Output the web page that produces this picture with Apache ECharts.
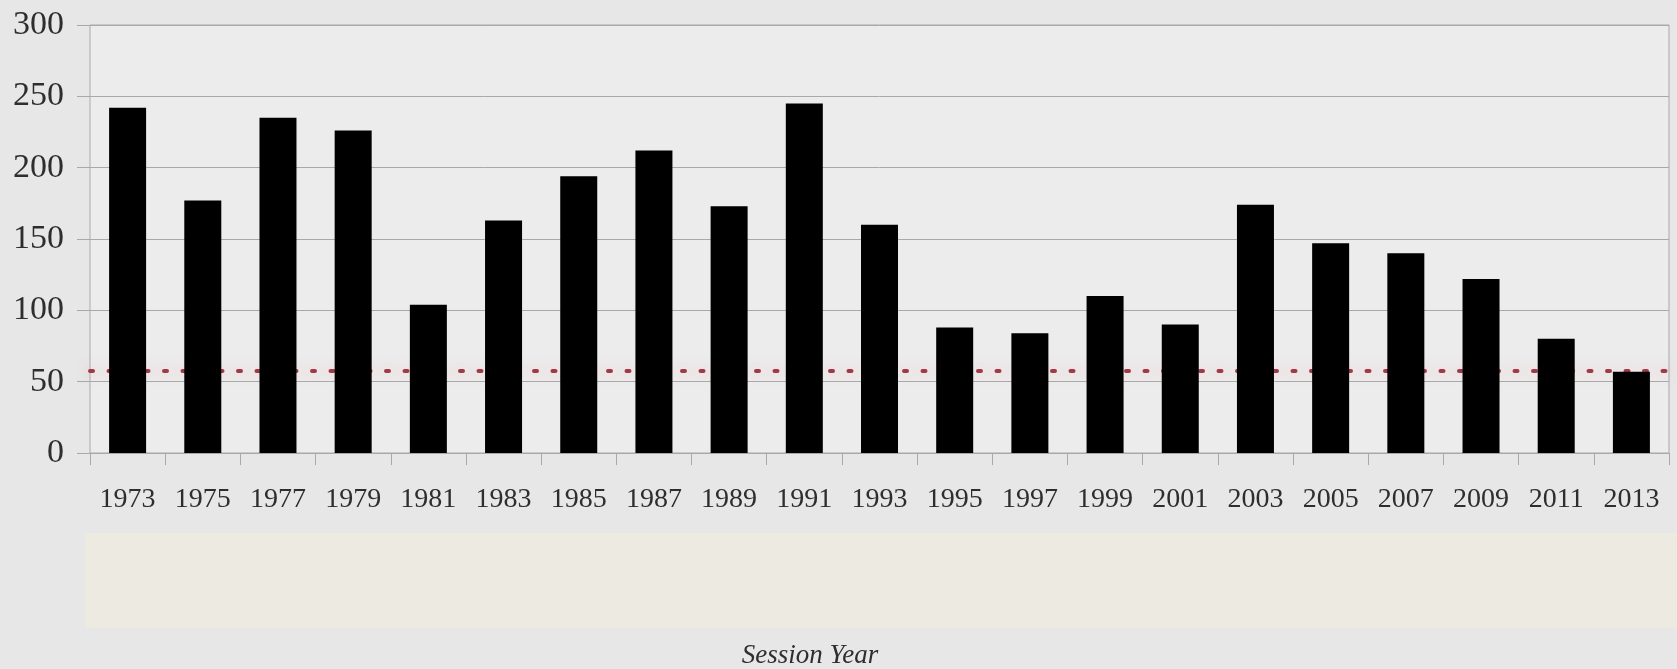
<!DOCTYPE html>
<html>
<head>
<meta charset="utf-8">
<script src="https://cdn.jsdelivr.net/npm/echarts@6/dist/echarts.min.js"></script>
<style>
html,body{margin:0;padding:0;background:#e7e7e7;}
#chart{width:1677px;height:669px;}
</style>
</head>
<body>
<div id="chart"></div>
<script>
const years = ['1973','1975','1977','1979','1981','1983','1985','1987','1989','1991','1993','1995','1997','1999','2001','2003','2005','2007','2009','2011','2013'];
const counts = [242,177,235,226,104,163,194,212,173,245,160,88,84,110,90,174,147,140,122,80,57];
const referenceLevel = 58;
const yTicks = [0,50,100,150,200,250,300];
const axisTitle = 'Session Year';

const chart = echarts.init(document.getElementById('chart'));
const serif = '"Liberation Serif", "DejaVu Serif", serif';
chart.setOption({
  backgroundColor: '#e7e7e7',
  animation: false,
  grid: {left: 90, right: 8, top: 25, bottom: 216, show: true, backgroundColor: '#ececec', borderColor: '#a9a9a9', borderWidth: 1},
  xAxis: {
    type: 'category',
    data: years,
    axisLine: {show: true, lineStyle: {color: '#a9a9a9', width: 1}},
    axisTick: {show: true, length: 12, lineStyle: {color: '#a9a9a9'}},
    axisLabel: {color: '#2e2e2e', fontFamily: serif, fontSize: 28, margin: 33}
  },
  yAxis: {
    type: 'value', min: yTicks[0], max: yTicks[yTicks.length-1], interval: 50,
    axisLine: {show: false},
    axisTick: {show: true, length: 13, lineStyle: {color: '#a9a9a9'}},
    splitLine: {lineStyle: {color: '#a9a9a9', width: 1}},
    axisLabel: {color: '#2e2e2e', fontFamily: serif, fontSize: 34, margin: 26}
  },
  graphic: [
    {type: 'rect', z: -10, shape: {x: 85, y: 533, width: 1592, height: 95}, style: {fill: '#edebe1'}},
    {type: 'text', z: 10, x: 810, y: 656, style: {text: axisTitle, fontFamily: serif, fontStyle: 'italic', fontSize: 27, fill: '#2e2e2e', textAlign: 'center', textVerticalAlign: 'middle'}}
  ],
  series: [{
    type: 'bar',
    data: counts,
    barWidth: 37,
    z: 3,
    itemStyle: {color: '#000'},
    markLine: {
      silent: true, symbol: 'none', z: 1,
      label: {show: false},
      lineStyle: {color: '#a03a48', width: 4, type: [3, 15.5], cap: 'round', shadowColor: 'rgba(255,140,150,0.7)', shadowBlur: 12},
      data: [{yAxis: referenceLevel}]
    }
  }]
});
</script>
</body>
</html>
